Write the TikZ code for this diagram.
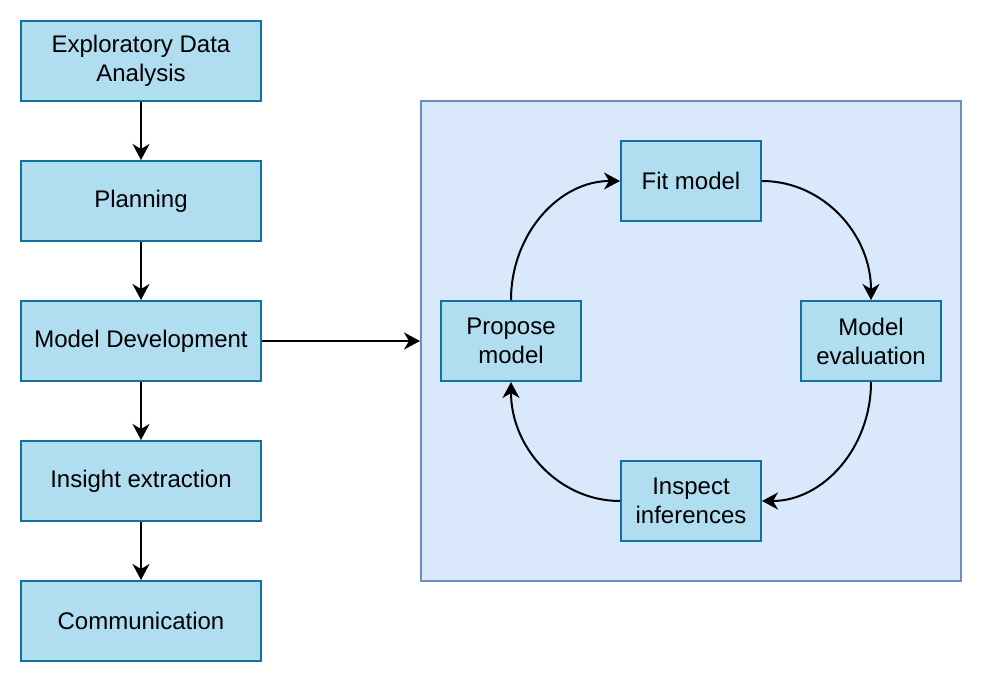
\documentclass[tikz,border=0pt]{standalone}
\usepackage{fontspec}
\setmainfont{Liberation Sans}
\usetikzlibrary{arrows.meta}

\definecolor{stagefill}{HTML}{B1DDF0}
\definecolor{stageline}{HTML}{10739E}
\definecolor{loopfill}{HTML}{DAE8FC}
\definecolor{loopline}{HTML}{6C8EBF}

\begin{document}
\begin{tikzpicture}[x=1pt, y=-1pt,
	stage/.style={draw=stageline, fill=stagefill, line width=2pt, inner sep=0pt,
		minimum width=240pt, minimum height=80pt, align=center,
		font=\fontsize{24}{29}\selectfont},
	step box/.style={stage, minimum width=140pt},
	flow/.style={-{Stealth[length=16pt,width=17pt,inset=5pt]}, line width=2pt}]
			%%%%% START %%%%%
			
			\useasboundingbox (0, 0) rectangle (982, 682);
			
			% left column
			\node[stage] (eda) at (141, 61) {Exploratory Data\\Analysis};
			\node[stage] (plan) at (141, 201) {Planning};
			\node[stage] (dev) at (141, 341) {Model Development};
			\node[stage] (insight) at (141, 481) {Insight extraction};
			\node[stage] (comm) at (141, 621) {Communication};
			
			\draw[flow] (eda) -- (plan);
			\draw[flow] (plan) -- (dev);
			\draw[flow] (dev) -- (insight);
			\draw[flow] (insight) -- (comm);
			
			% modelling loop
			\node[draw=loopline, fill=loopfill, line width=2pt, inner sep=0pt,
				minimum width=540pt, minimum height=480pt] (loop) at (691, 341) {};
			\draw[flow] (dev) -- (loop.west);
			
			\node[step box] (fit) at (691, 181) {Fit model};
			\node[step box] (propose) at (511, 341) {Propose\\model};
			\node[step box] (eval) at (871, 341) {Model\\evaluation};
			\node[step box] (inspect) at (691, 501) {Inspect\\inferences};
			
			\draw[flow] (fit.east) .. controls +(61, 0) and +(0, -66) .. (eval.north);
			\draw[flow] (eval.south) .. controls +(0, 66) and +(61, 0) .. (inspect.east);
			\draw[flow] (inspect.west) .. controls +(-61, 0) and +(0, 66) .. (propose.south);
			\draw[flow] (propose.north) .. controls +(0, -66) and +(-61, 0) .. (fit.west);
			
			%%%%% END %%%%%
\end{tikzpicture}
\end{document}
